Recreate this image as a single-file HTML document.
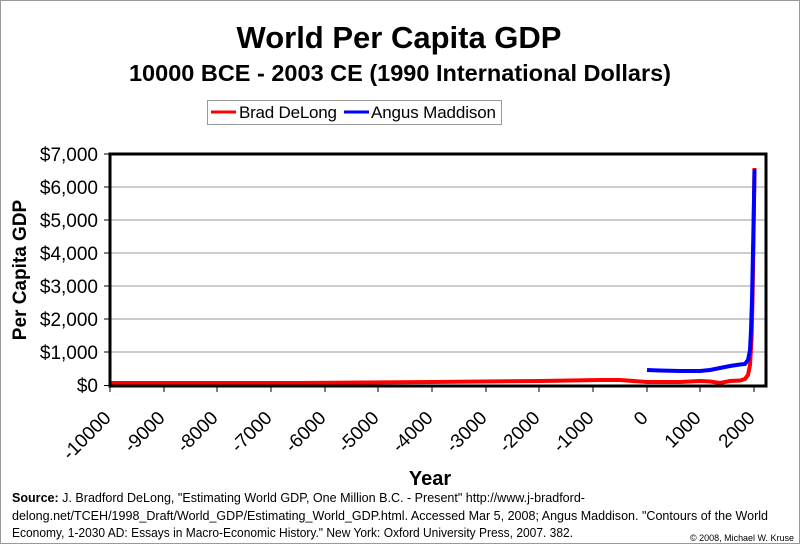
<!DOCTYPE html>
<html><head><style>body{margin:0;background:#fff}svg{display:block}</style></head><body>
<svg width="800" height="544" xmlns="http://www.w3.org/2000/svg" font-family="Liberation Sans, Arial, sans-serif">
<rect x="0.5" y="0.5" width="799" height="543" fill="#fff" stroke="#999"/>
<text x="399" y="48" text-anchor="middle" font-size="31" font-weight="bold">World Per Capita GDP</text>
<text x="400" y="81" text-anchor="middle" font-size="23.5" font-weight="bold">10000 BCE - 2003 CE (1990 International Dollars)</text>
<rect x="207.5" y="100.5" width="294" height="24" fill="#fff" stroke="#999"/>
<line x1="211" y1="112" x2="236" y2="112" stroke="red" stroke-width="3"/>
<text x="239" y="118" font-size="17" textLength="98">Brad DeLong</text>
<line x1="344" y1="112" x2="369" y2="112" stroke="blue" stroke-width="3"/>
<text x="371" y="118" font-size="17" textLength="125">Angus Maddison</text>
<g stroke="#999" stroke-width="1">
<line x1="110" y1="187" x2="766" y2="187"/><line x1="110" y1="220" x2="766" y2="220"/>
<line x1="110" y1="253" x2="766" y2="253"/><line x1="110" y1="286" x2="766" y2="286"/>
<line x1="110" y1="319" x2="766" y2="319"/><line x1="110" y1="352" x2="766" y2="352"/>
</g>
<g font-size="19" text-anchor="end">
<text x="98" y="161">$7,000</text><text x="98" y="194">$6,000</text><text x="98" y="227">$5,000</text>
<text x="98" y="260">$4,000</text><text x="98" y="293">$3,000</text><text x="98" y="326">$2,000</text>
<text x="98" y="359">$1,000</text><text x="98" y="392">$0</text>
</g>
<g stroke="#000"><line x1="104" y1="154" x2="110" y2="154"/><line x1="104" y1="187" x2="110" y2="187"/><line x1="104" y1="220" x2="110" y2="220"/><line x1="104" y1="253" x2="110" y2="253"/><line x1="104" y1="286" x2="110" y2="286"/><line x1="104" y1="319" x2="110" y2="319"/><line x1="104" y1="352" x2="110" y2="352"/><line x1="104" y1="385.5" x2="110" y2="385.5"/></g>
<text transform="translate(26,270) rotate(-90)" text-anchor="middle" font-size="19" font-weight="bold">Per Capita GDP</text>
<g stroke="#000">
<line x1="110" y1="386" x2="110" y2="392"/><line x1="164" y1="386" x2="164" y2="392"/><line x1="217" y1="386" x2="217" y2="392"/><line x1="271" y1="386" x2="271" y2="392"/><line x1="325" y1="386" x2="325" y2="392"/><line x1="378" y1="386" x2="378" y2="392"/><line x1="432" y1="386" x2="432" y2="392"/><line x1="486" y1="386" x2="486" y2="392"/><line x1="539" y1="386" x2="539" y2="392"/><line x1="593" y1="386" x2="593" y2="392"/><line x1="647" y1="386" x2="647" y2="392"/><line x1="700" y1="386" x2="700" y2="392"/><line x1="754" y1="386" x2="754" y2="392"/>
</g>
<g font-size="19" text-anchor="end">
<text transform="translate(112,419) rotate(-45)">-10000</text>
<text transform="translate(166,419) rotate(-45)">-9000</text>
<text transform="translate(219,419) rotate(-45)">-8000</text>
<text transform="translate(273,419) rotate(-45)">-7000</text>
<text transform="translate(327,419) rotate(-45)">-6000</text>
<text transform="translate(380,419) rotate(-45)">-5000</text>
<text transform="translate(434,419) rotate(-45)">-4000</text>
<text transform="translate(488,419) rotate(-45)">-3000</text>
<text transform="translate(541,419) rotate(-45)">-2000</text>
<text transform="translate(595,419) rotate(-45)">-1000</text>
<text transform="translate(649,419) rotate(-45)">0</text>
<text transform="translate(702,419) rotate(-45)">1000</text>
<text transform="translate(756,419) rotate(-45)">2000</text>
</g>
<polyline fill="none" stroke="red" stroke-width="4" points="110,383 300,383 432,382 540,381 600,380 620,380 647,382 680,382 700,381 710,381.5 720,383 730,381 740,380.5 745,379 748,375 750,365 751.5,340 752.5,300 753.5,240 754,200 754.5,168"/>
<polyline fill="none" stroke="blue" stroke-width="4" points="647,370 660,370.5 680,371 700,371 710,370 720,368 730,366 740,364.5 745,364 748,360 750,350 751,330 752,300 753,250 754,200 754.5,169"/>
<rect x="110" y="154" width="656" height="232" fill="none" stroke="#000" stroke-width="3"/>
<text x="430" y="485" text-anchor="middle" font-size="20" font-weight="bold">Year</text>
<g font-size="12.5">
<text x="12" y="502" textLength="573" lengthAdjust="spacingAndGlyphs"><tspan font-weight="bold">Source:</tspan> J. Bradford DeLong, "Estimating World GDP, One Million B.C. - Present" http://www.j-bradford-</text>
<text x="12" y="520" textLength="756" lengthAdjust="spacingAndGlyphs">delong.net/TCEH/1998_Draft/World_GDP/Estimating_World_GDP.html. Accessed Mar 5, 2008; Angus Maddison. "Contours of the World</text>
<text x="12" y="537" textLength="561" lengthAdjust="spacingAndGlyphs">Economy, 1-2030 AD: Essays in Macro-Economic History." New York: Oxford University Press, 2007. 382.</text>
</g>
<text x="690" y="541" font-size="9" textLength="104" lengthAdjust="spacingAndGlyphs">© 2008, Michael W. Kruse</text>
</svg>
</body></html>
